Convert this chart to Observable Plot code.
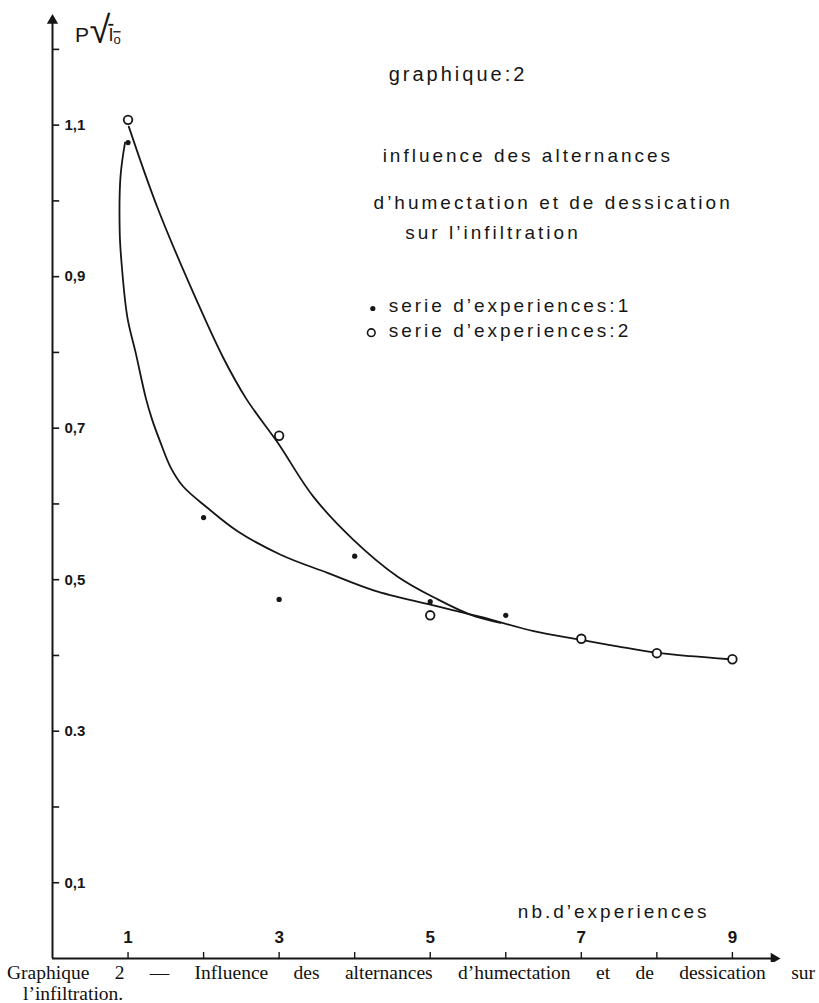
<!DOCTYPE html>
<html><head><meta charset="utf-8">
<script src="https://cdn.jsdelivr.net/npm/d3@7"></script>
<script src="https://cdn.jsdelivr.net/npm/@observablehq/plot@0.6"></script>
<style>
body{margin:0;background:#fff;}
#chart{width:819px;height:962px;}
.caption{font-family:"Liberation Serif","Times New Roman",serif;font-size:19.5px;line-height:21px;color:#111;width:808px;margin-left:7px;}
.l1{text-align:justify;text-align-last:justify;}
.l2{padding-left:16px;}
</style></head><body>
<div id="chart"></div>
<div class="caption"><div class="l1">Graphique 2 — Influence des alternances d’humectation et de dessication sur</div><div class="l2">l’infiltration.</div></div>
<script>
// ---- data ----
const serie1X = [1, 2, 3, 4, 5, 6];
const serie1Y = [1.077, 0.582, 0.474, 0.531, 0.471, 0.453];
const serie2X = [1, 3, 5, 7, 8, 9];
const serie2Y = [1.107, 0.690, 0.453, 0.422, 0.403, 0.395];

// hand-drawn fitted curves
const curve1X = [0.96, 0.90, 0.89, 0.91, 0.99, 1.10, 1.24, 1.32, 1.43, 1.56, 1.73, 2.05, 2.45, 3.02, 3.64, 4.25, 5.00, 5.67, 6.37, 6.98, 7.48, 7.96, 8.45, 8.97];
const curve1Y = [1.077, 1.032, 0.958, 0.923, 0.847, 0.800, 0.738, 0.711, 0.681, 0.649, 0.623, 0.595, 0.564, 0.533, 0.509, 0.486, 0.467, 0.451, 0.432, 0.421, 0.412, 0.404, 0.399, 0.395];
const curve2X = [1.01, 1.39, 1.96, 2.26, 2.57, 2.98, 3.45, 3.98, 4.57, 5.10, 5.53, 5.93];
const curve2Y = [1.098, 0.991, 0.857, 0.793, 0.738, 0.681, 0.610, 0.553, 0.504, 0.474, 0.454, 0.443];

const yTickValues = [0.1, 0.2, 0.3, 0.4, 0.5, 0.6, 0.7, 0.8, 0.9, 1.0, 1.1, 1.2];
const yLabelValues = [1.1, 0.9, 0.7, 0.5, 0.3, 0.1];
const yLabelTexts = ["1,1", "0,9", "0,7", "0,5", "0.3", "0,1"];
const xTickValues = [1, 2, 3, 4, 5, 6, 7, 8, 9];
const xLabelValues = [1, 3, 5, 7, 9];
const xLabelTexts = ["1", "3", "5", "7", "9"];

const titleText = "graphique:2";
const legendLines = ["influence des alternances", "d’humectation et de dessication", "sur l’infiltration"];
const serieLabels = ["serie d’experiences:1", "serie d’experiences:2"];
const xTitle = "nb.d’experiences";

// ---- tables for the library ----
const pts1 = serie1X.map((x, i) => ({x, y: serie1Y[i]}));
const pts2 = serie2X.map((x, i) => ({x, y: serie2Y[i]}));
const c1 = curve1X.map((x, i) => ({x, y: curve1Y[i]}));
const c2 = curve2X.map((x, i) => ({x, y: curve2Y[i]}));
const yLabs = yLabelValues.map((v, i) => ({v, t: yLabelTexts[i]}));
const xLabs = xLabelValues.map((v, i) => ({v, t: xLabelTexts[i]}));

const ink = "#161616";
const sans = "'Liberation Sans', Arial, sans-serif";
const xMax = 9.65, yMax = 1.25;

const legendPos = [
  {x: 4.37, y: 1.059, t: legendLines[0]},
  {x: 4.25, y: 0.998, t: legendLines[1]},
  {x: 4.67, y: 0.958, t: legendLines[2]}
];

const plot = Plot.plot({
  width: 819, height: 962,
  marginLeft: 52, marginRight: 38, marginTop: 11, marginBottom: 4,
  x: {domain: [0, xMax], axis: null},
  y: {domain: [0, yMax], axis: null},
  style: {background: "white", color: ink, fontFamily: sans},
  marks: [
    // axes with arrows
    Plot.ruleX([0], {y1: 0, y2: yMax - 0.012, stroke: ink, strokeWidth: 2}),
    Plot.ruleY([0], {x1: 0, x2: xMax - 0.1, stroke: ink, strokeWidth: 2}),
    Plot.dot([{x: 0, y: yMax - 0.012}], {x: "x", y: "y", symbol: "triangle", r: 4.2, fill: ink, stroke: null}),
    Plot.dot([{x: xMax - 0.1, y: 0}], {x: "x", y: "y", symbol: "triangle", rotate: 90, r: 4.2, fill: ink, stroke: null}),
    // ticks
    Plot.ruleY(yTickValues, {x1: 0, x2: 0.095, stroke: ink, strokeWidth: 1.6}),
    Plot.ruleX(xTickValues, {y1: 0, y2: 0.008, stroke: ink, strokeWidth: 1.4}),
    Plot.text(yLabs, {x: 0, y: "v", text: "t", dx: 12, textAnchor: "start", fontSize: 15, fontWeight: "bold", fill: ink}),
    Plot.text(xLabs, {x: "v", y: 0, text: "t", dy: -21, fontSize: 17, fontWeight: "bold", fill: ink}),
    Plot.text([xTitle], {x: 6.16, y: 0, text: d => d, dy: -47, textAnchor: "start", fontSize: 19, fill: ink}),
    // y title
    Plot.text(["P"], {x: 0.39, y: 1.218, text: d => d, fontSize: 21, fill: ink}),
    Plot.text(["ROOT"], {x: 0.49, y: 1.222, text: d => d, textAnchor: "start", fontSize: 18, fill: ink}),
    // fitted curves
    Plot.line(c1, {x: "x", y: "y", curve: "catmull-rom", stroke: ink, strokeWidth: 1.8}),
    Plot.line(c2, {x: "x", y: "y", curve: "catmull-rom", stroke: ink, strokeWidth: 1.8}),
    // data points
    Plot.dot(pts1, {x: "x", y: "y", r: 2.6, fill: ink, stroke: null}),
    Plot.dot(pts2, {x: "x", y: "y", r: 4.3, fill: "white", stroke: ink, strokeWidth: 1.8}),
    // title block
    Plot.text([titleText], {x: 4.45, y: 1.167, text: d => d, textAnchor: "start", fontSize: 20, fill: ink}),
    Plot.text(legendPos, {x: "x", y: "y", text: "t", textAnchor: "start", fontSize: 19, fill: ink}),
    // legend
    Plot.dot([{x: 4.24, y: 0.858}], {x: "x", y: "y", r: 2.6, fill: ink, stroke: null}),
    Plot.text([serieLabels[0]], {x: 4.45, y: 0.861, text: d => d, textAnchor: "start", fontSize: 19, fill: ink}),
    Plot.dot([{x: 4.22, y: 0.826}], {x: "x", y: "y", r: 3.8, fill: "white", stroke: ink, strokeWidth: 1.6}),
    Plot.text([serieLabels[1]], {x: 4.45, y: 0.829, text: d => d, textAnchor: "start", fontSize: 19, fill: ink})
  ]
});

// wide letter spacing for the hand-lettered texts
const spaced = new Set([titleText, xTitle, ...legendLines, ...serieLabels]);
d3.select(plot).selectAll("text").filter(function() { return spaced.has(this.textContent); })
  .attr("letter-spacing", 3);

// radical sign with overline for the y title
d3.select(plot).selectAll("text").filter(function() { return this.textContent === "ROOT"; })
  .each(function() {
    const t = d3.select(this);
    t.text("");
    t.append("tspan").attr("font-size", 38).attr("dy", "0.12em").text("√");
    t.append("tspan").attr("text-decoration", "overline").attr("dy", "-0.12em").attr("dx", -2).text("I");
    t.append("tspan").attr("text-decoration", "overline").attr("font-size", 13).attr("dy", "0.25em").text("o");
  });

document.getElementById("chart").appendChild(plot);
</script>
</body></html>
